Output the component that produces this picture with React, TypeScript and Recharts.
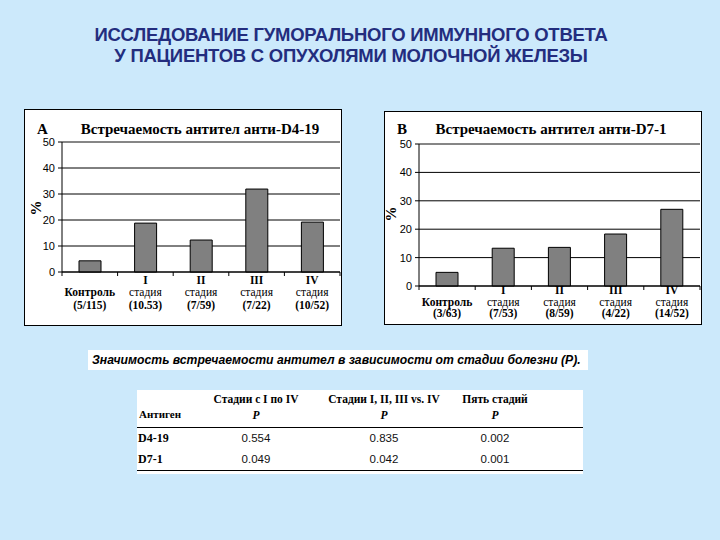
import React from 'react';
import { BarChart, Bar, XAxis, YAxis, CartesianGrid, ReferenceLine } from 'recharts';

// categories and series
const stages = ['Контроль', 'I', 'II', 'III', 'IV'];
const countsA = ['(5/115)', '(10.53)', '(7/59)', '(7/22)', '(10/52)'];
const countsB = ['(3/63)', '(7/53)', '(8/59)', '(4/22)', '(14/52)'];
const percentA = [4.3, 18.8, 12.3, 31.9, 19.2];
const percentB = [4.8, 13.3, 13.6, 18.3, 27.0];
const yTicks = [0, 10, 20, 30, 40, 50];

// table
const tableHeads = ['Стадии с I по IV', 'Стадии I, II, III vs. IV', 'Пять стадий'];
const antigens = ['D4-19', 'D7-1'];
const pValues = [
  ['0.554', '0.835', '0.002'],
  ['0.049', '0.042', '0.001'],
];

const BG = '#cce9fb';
const NAVY = '#232d7e';
const SERIF = '"Liberation Serif", "Times New Roman", serif';
const SANS = '"Liberation Sans", Arial, sans-serif';

const rowsA = stages.map((s, i) => ({ stage: s, value: percentA[i] }));
const rowsB = stages.map((s, i) => ({ stage: s, value: percentB[i] }));

const StageTick = (props: any) => {
  const { x, y, payload, index, counts, lineY, plotW } = props;
  const band = plotW / stages.length;
  const isControl = payload.value === 'Контроль';
  return (
    <g>
      <line x1={x - band / 2} x2={x - band / 2} y1={y} y2={y + 4} stroke="#000" />
      {index === stages.length - 1 && (
        <line x1={x + band / 2} x2={x + band / 2} y1={y} y2={y + 4} stroke="#000" />
      )}
      <text fontFamily={SERIF} fontSize={11.5} fill="#000" textAnchor="middle" dominantBaseline="central">
        {!isControl && (
          <tspan x={x} y={y + lineY[0]} fontWeight="bold">
            {payload.value}
          </tspan>
        )}
        <tspan x={x} y={y + lineY[1]} fontWeight={isControl ? 'bold' : 'normal'}>
          {isControl ? 'Контроль' : 'стадия'}
        </tspan>
        <tspan x={x} y={y + lineY[2]} fontWeight="bold">
          {counts[index]}
        </tspan>
      </text>
    </g>
  );
};

interface PanelProps {
  left: number;
  top: number;
  width: number;
  height: number;
  data: Array<{ stage: string; value: number }>;
  counts: string[];
  letter: string;
  title: string;
  titleShift: number;
  yAxisWidth: number;
  xAxisHeight: number;
  bottomMargin: number;
  lineY: number[];
  titleY: number;
  pctX: number;
  pctY: number;
}

const Panel: React.FC<PanelProps> = (p) => {
  const margin = { top: 33, right: 2, left: 0, bottom: p.bottomMargin };
  const plotW = p.width - margin.left - margin.right - p.yAxisWidth;
  return (
    <div
      style={{
        position: 'absolute',
        left: p.left,
        top: p.top,
        width: p.width,
        height: p.height,
        background: '#fff',
        boxSizing: 'border-box',
        border: '1px solid #000',
      }}
    >
      <div style={{ position: 'absolute', left: -1, top: -1 }}>
        <BarChart width={p.width} height={p.height} data={p.data} margin={margin} barSize={22}>
          <CartesianGrid vertical={false} stroke="#000" strokeWidth={1} />
          <ReferenceLine y={50} stroke="#8c8c8c" strokeWidth={1} />
          <XAxis
            dataKey="stage"
            height={p.xAxisHeight}
            axisLine={{ stroke: '#000' }}
            tickLine={false}
            tickSize={0}
            tickMargin={0}
            interval={0}
            tick={(t: any) => <StageTick {...t} counts={p.counts} lineY={p.lineY} plotW={plotW} />}
          />
          <YAxis
            width={p.yAxisWidth}
            domain={[0, 50]}
            ticks={yTicks}
            interval={0}
            tickSize={4}
            tickMargin={3}
            axisLine={{ stroke: '#000' }}
            tickLine={{ stroke: '#000' }}
            tick={{ fontSize: 11, fill: '#000', fontFamily: SANS }}
          />
          <Bar dataKey="value" fill="#808080" stroke="#000" strokeWidth={1} isAnimationActive={false} />
        </BarChart>
      </div>
      <div
        style={{
          position: 'absolute',
          left: 12,
          top: p.titleY - 9,
          fontFamily: SERIF,
          fontWeight: 'bold',
          fontSize: 15,
          lineHeight: '18px',
        }}
      >
        {p.letter}
      </div>
      <div
        style={{
          position: 'absolute',
          left: 0,
          width: p.width,
          top: p.titleY - 9,
          textAlign: 'center',
          fontFamily: SERIF,
          fontWeight: 'bold',
          fontSize: 15,
          lineHeight: '18px',
          paddingLeft: p.titleShift,
          boxSizing: 'border-box',
          whiteSpace: 'nowrap',
        }}
      >
        {p.title}
      </div>
      <div
        style={{
          position: 'absolute',
          left: p.pctX - 10,
          top: p.pctY - 8,
          width: 20,
          height: 16,
          lineHeight: '16px',
          textAlign: 'center',
          fontFamily: SERIF,
          fontWeight: 'bold',
          fontSize: 15,
          transform: 'rotate(-90deg)',
        }}
      >
        %
      </div>
    </div>
  );
};

const App: React.FC = () => {
  const colCenters = [256, 384, 495];
  return (
    <div
      style={{
        position: 'fixed',
        left: 0,
        top: 0,
        width: 720,
        height: 540,
        background: BG,
        overflow: 'hidden',
        fontFamily: SANS,
      }}
    >
      {/* Title */}
      <div
        style={{
          position: 'absolute',
          left: 0,
          top: 24,
          width: 702,
          textAlign: 'center',
          color: NAVY,
          fontWeight: 'bold',
          fontSize: 18.5,
          lineHeight: '21px',
          letterSpacing: -0.25,
        }}
      >
        ИССЛЕДОВАНИЕ ГУМОРАЛЬНОГО ИММУННОГО ОТВЕТА
        <br />
        У ПАЦИЕНТОВ С ОПУХОЛЯМИ МОЛОЧНОЙ ЖЕЛЕЗЫ
      </div>

      <Panel
        left={24}
        top={109}
        width={318}
        height={217}
        data={rowsA}
        counts={countsA}
        letter="A"
        title="Встречаемость антител анти-D4-19"
        titleShift={32}
        yAxisWidth={38}
        xAxisHeight={44}
        bottomMargin={10}
        lineY={[8, 20, 33]}
        titleY={19}
        pctX={11}
        pctY={98}
      />
      <Panel
        left={384}
        top={111}
        width={318}
        height={214}
        data={rowsB}
        counts={countsB}
        letter="B"
        title="Встречаемость антител анти-D7-1"
        titleShift={14}
        yAxisWidth={35}
        xAxisHeight={34}
        bottomMargin={5}
        lineY={[4, 16, 27]}
        titleY={17}
        pctX={6}
        pctY={102}
      />

      {/* Caption */}
      <div
        style={{
          position: 'absolute',
          left: 88,
          top: 350,
          width: 500,
          height: 20,
          background: '#fff',
          fontStyle: 'italic',
          fontWeight: 'bold',
          fontSize: 12.2,
          lineHeight: '20px',
          paddingLeft: 4,
          boxSizing: 'border-box',
          whiteSpace: 'nowrap',
        }}
      >
        Значимость встречаемости антител в зависимости от стадии болезни (P).
      </div>

      {/* Table */}
      <div
        style={{
          position: 'absolute',
          left: 137,
          top: 390,
          width: 446,
          height: 84,
          background: '#fff',
        }}
      >
        <div style={{ position: 'absolute', left: 0, right: 0, top: 37, borderTop: '1px solid #000' }} />
        <div style={{ position: 'absolute', left: 0, right: 0, top: 80, borderTop: '1px solid #000' }} />
        <div
          style={{
            position: 'absolute',
            left: 2,
            top: 17,
            fontFamily: SERIF,
            fontWeight: 'bold',
            fontSize: 11,
            lineHeight: '14px',
          }}
        >
          Антиген
        </div>
        {tableHeads.map((h, i) => (
          <div
            key={h}
            style={{
              position: 'absolute',
              left: colCenters[i] - 137 - 80,
              width: 160,
              top: 1,
              textAlign: 'center',
              fontFamily: SERIF,
              fontWeight: 'bold',
              fontSize: 11.5,
              lineHeight: '16px',
            }}
          >
            {h}
            <br />
            <i>P</i>
          </div>
        ))}
        {antigens.map((a, r) => (
          <React.Fragment key={a}>
            <div
              style={{
                position: 'absolute',
                left: 1,
                top: 41 + r * 21,
                fontFamily: SERIF,
                fontWeight: 'bold',
                fontSize: 12,
                lineHeight: '14px',
              }}
            >
              {a}
            </div>
            {pValues[r].map((v, c) => (
              <div
                key={c}
                style={{
                  position: 'absolute',
                  left: colCenters[c] - 137 - 40,
                  width: 80,
                  top: 41 + r * 21,
                  textAlign: 'center',
                  fontFamily: SANS,
                  fontSize: 11.5,
                  lineHeight: '14px',
                  color: '#111',
                }}
              >
                {v}
              </div>
            ))}
          </React.Fragment>
        ))}
      </div>
    </div>
  );
};

export default App;
